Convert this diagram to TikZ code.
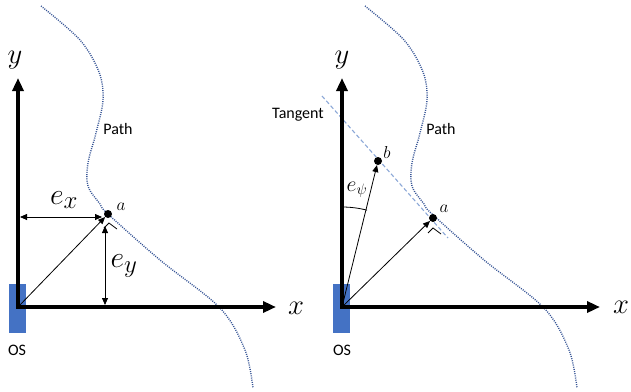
\documentclass[tikz,border=0pt]{standalone}
\usepackage{fontspec}
\newfontfamily\carlito{Carlito}
\usetikzlibrary{arrows.meta}
\definecolor{osblue}{RGB}{68,114,196}
\definecolor{pathblue}{RGB}{55,85,150}
\definecolor{tanblue}{RGB}{140,168,215}
\begin{document}
\begin{tikzpicture}[x=1pt,y=-1pt,
  axis/.style={line width=3.6pt, line join=miter, {Triangle[length=13pt,width=11pt]}-{Triangle[length=13pt,width=11pt]}},
  thinarrow/.style={line width=0.8pt, -{Triangle[length=7pt,width=6pt]}},
  dblarrow/.style={line width=0.8pt, {Triangle[length=7pt,width=6pt]}-{Triangle[length=7pt,width=6pt]}},
  dotnode/.style={circle, fill=black, inner sep=0pt, minimum size=8pt},
  osbox/.style={fill=osblue, draw=none},
  pathline/.style={pathblue, line width=1.4pt, dash pattern=on 1pt off 1.2pt},
  tanline/.style={tanblue, line width=1.1pt, dash pattern=on 4pt off 2.5pt},
  txt/.style={font=\carlito\fontsize{16}{19}\selectfont, inner sep=0pt},
  bigmath/.style={font=\fontsize{24.88}{30}\selectfont, inner sep=0pt},
  midmath/.style={font=\fontsize{20.74}{24}\selectfont, inner sep=0pt},
  smallmath/.style={font=\fontsize{17.28}{19}\selectfont, inner sep=0pt},
  ramark/.style={line width=0.8pt}
]
\useasboundingbox (0,0) rectangle (631,391);

% ---------------- left diagram ----------------
\fill[osbox] (9,284) rectangle (26,333);
\coordinate (O1) at (18,307);
\coordinate (Y1) at (18,78);
\coordinate (X1) at (276,307);
\draw[pathline] plot[smooth, tension=0.55] coordinates {(41,6) (80,40) (99,72) (103,100) (96,133) (88,163) (88,186) (100,204) (108,214) (160,260) (220,308) (245,350) (253,388)};
\draw[axis] (Y1) -- (O1) -- (X1);
\node[dotnode] (a1) at (108,214) {};
\draw[thinarrow] (O1) -- (a1);
\coordinate (exL) at (20,217);
\coordinate (exR) at (102,217);
\draw[dblarrow] (exL) -- (exR);
\coordinate (eyT) at (105,226);
\coordinate (eyB) at (105,305);
\draw[dblarrow] (eyT) -- (eyB);
\draw[ramark] (104,228) -- (109,223) -- (117,229);
\node[bigmath] (ylab1) at (15,60) {\scalebox{1.15}{$y$}};
\node[bigmath] (xlab1) at (296,308) {\scalebox{1.15}{$x$}};
\node[bigmath] (exlab) at (64,200) {\scalebox{1.2}{$e_x$}};
\node[bigmath] (eylab) at (124,266) {\scalebox{1.2}{$e_y$}};
\node[smallmath] (alab1) at (121,207) {$a$};
\node[txt] (path1) at (118,129) {Path};
\node[txt] (os1) at (17,350) {OS};

% ---------------- right diagram ----------------
\fill[osbox] (333,284) rectangle (350,333);
\coordinate (O2) at (342,307);
\coordinate (Y2) at (342,78);
\coordinate (X2) at (600,307);
\begin{scope}[shift={(324,0)}]
\draw[pathline] plot[smooth, tension=0.55] coordinates {(41,6) (80,40) (99,72) (103,100) (96,133) (88,163) (88,186) (100,204) (108,214) (160,260) (220,308) (245,350) (253,388)};
\end{scope}
\coordinate (T1) at (322,96);
\coordinate (T2) at (448,238);
\draw[tanline] (T1) -- (T2);
\draw[axis] (Y2) -- (O2) -- (X2);
\node[dotnode] (a2) at (433,218) {};
\node[dotnode] (b2) at (378,161) {};
\draw[thinarrow] (O2) -- (a2);
\draw[thinarrow] (O2) -- (b2);
\draw[line width=0.8pt] (342,207) arc[start angle=-90, end angle=-75.5, radius=100];
\draw[ramark] (428,233) -- (433,228) -- (441,234);
\node[bigmath] (ylab2) at (342,60) {\scalebox{1.15}{$y$}};
\node[bigmath] (xlab2) at (621,307) {\scalebox{1.15}{$x$}};
\node[midmath] (epsilab) at (357,190) {\scalebox{1.05}{$e_\psi$}};
\node[smallmath] (alab2) at (444,209) {$a$};
\node[smallmath] (blab2) at (387,152) {$b$};
\node[txt] (path2) at (441,129) {Path};
\node[txt] (tanlab) at (298,115) {Tangent};
\node[txt] (os2) at (342,350) {OS};
\end{tikzpicture}
\end{document}
